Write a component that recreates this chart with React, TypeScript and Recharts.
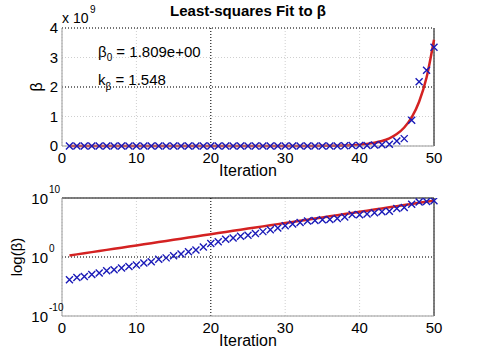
import React from "react";
import {
  LineChart,
  Line,
  XAxis,
  YAxis,
  CartesianGrid,
  ReferenceLine,
} from "recharts";

const iterations = [
  1, 2, 3, 4, 5, 6, 7, 8, 9, 10, 11, 12, 13, 14, 15, 16, 17, 18, 19, 20,
  21, 22, 23, 24, 25, 26, 27, 28, 29, 30, 31, 32, 33, 34, 35, 36, 37, 38, 39, 40,
  41, 42, 43, 44, 45, 46, 47, 48, 49, 50,
];

// measured beta per iteration
const betaValues = [
  1.4e-4, 3.2e-4, 5.0e-4, 1.1e-3, 2.0e-3, 4.5e-3, 7.1e-3, 1.4e-2, 2.5e-2, 4.5e-2,
  0.1, 0.16, 0.4, 0.71, 1.6, 3.2, 7.9, 16, 50, 200,
  400, 1.0e3, 1.6e3, 3.2e3, 5.0e3, 1.0e4, 2.0e4, 4.0e4, 7.9e4, 2.0e5,
  4.0e5, 7.1e5, 1.3e6, 1.6e6, 2.0e6, 2.2e6, 3.2e6, 6.3e6, 1.6e7, 1.4e7,
  2.0e7, 3.2e7, 4.5e7, 5.6e7, 1.7e8, 2.5e8, 8.7e8, 2.18e9, 2.57e9, 3.35e9,
];

// least-squares fit curve
const fitValues = [
  1.81, 2.8, 4.34, 6.71, 10.4, 16.1, 24.9, 38.5, 59.6, 92.3,
  143, 221, 342, 530, 821, 1270, 1966, 3044, 4712, 7295,
  1.13e4, 1.75e4, 2.71e4, 4.19e4, 6.49e4, 1.0e5, 1.55e5, 2.41e5, 3.72e5, 5.76e5,
  8.92e5, 1.38e6, 2.14e6, 3.31e6, 5.12e6, 7.93e6, 1.23e7, 1.9e7, 2.94e7, 4.55e7,
  7.05e7, 1.09e8, 1.69e8, 2.62e8, 4.05e8, 6.27e8, 9.7e8, 1.5e9, 2.32e9, 3.6e9,
];

const xTicks = [0, 10, 20, 30, 40, 50];
const linTicks = [0, 1e9, 2e9, 3e9, 4e9];
const logTicks = [1e-10, 1, 1e10];
const logTickExponents = ["-10", "0", "10"];

const rows = iterations.map((it, i) => ({
  iter: it,
  beta: betaValues[i],
  fit: fitValues[i],
}));

const BLUE = "#1a1ab8";
const RED = "#d42222";
const AXIS = "#9a9a9a";

const Cross = (props: any) => {
  const { cx, cy } = props;
  if (cx == null || cy == null) return null;
  const r = 3.5;
  return (
    <path
      d={`M${cx - r},${cy - r}L${cx + r},${cy + r}M${cx - r},${cy + r}L${cx + r},${cy - r}`}
      stroke={BLUE}
      strokeWidth={1.4}
      fill="none"
    />
  );
};

const LogTick = (props: any) => {
  const { y, payload } = props;
  const idx = logTicks.indexOf(payload.value);
  return (
    <g>
      <text x={48} y={y} textAnchor="end" dominantBaseline="central" fontSize={15} fill="#000">
        10
      </text>
      <text x={49} y={y - 5} textAnchor="start" fontSize={10} fill="#000">
        {logTickExponents[idx]}
      </text>
    </g>
  );
};

export default function App() {
  return (
    <div
      style={{
        position: "absolute",
        left: 0,
        top: 0,
        width: 480,
        height: 361,
        background: "#fff",
        fontFamily: "'Liberation Sans', Arial, sans-serif",
      }}
    >
      <div style={{ position: "absolute", left: 0, top: 0 }}>
        <LineChart width={480} height={180} data={rows} margin={{ top: 28, right: 46, left: 0, bottom: 14 }}>
          <CartesianGrid stroke="#cfcfcf" strokeDasharray="1 2" />
          <XAxis
            dataKey="iter"
            type="number"
            domain={[0, 50]}
            ticks={xTicks}
            height={20}
            tickLine={false}
            tickSize={0}
            tickMargin={6}
            axisLine={{ stroke: AXIS }}
            tick={{ fill: "#000", fontSize: 15 }}
            label={{ value: "Iteration", position: "bottom", offset: -1, fill: "#000", fontSize: 16 }}
          />
          <YAxis
            type="number"
            domain={[0, 4e9]}
            ticks={linTicks}
            width={62}
            tickLine={false}
            tickSize={0}
            tickMargin={4}
            axisLine={{ stroke: AXIS }}
            tick={{ fill: "#000", fontSize: 15 }}
            tickFormatter={(v: number) => String(v / 1e9)}
            label={{ value: "β", angle: -90, position: "insideLeft", offset: 36, fill: "#000", fontSize: 16, style: { textAnchor: "middle" } }}
          />
          <ReferenceLine x={20} stroke="#000" strokeDasharray="1 2" />
          <ReferenceLine y={2e9} stroke="#000" strokeDasharray="1 2" />
          <ReferenceLine y={4e9} stroke="#000" strokeDasharray="1 2" />
          <ReferenceLine x={50} stroke="#000" />
          <Line
            dataKey="fit"
            type="monotone"
            stroke={RED}
            strokeWidth={2.5}
            dot={false}
            activeDot={false}
            isAnimationActive={false}
          />
          <Line
            dataKey="beta"
            stroke="none"
            dot={<Cross />}
            activeDot={false}
            isAnimationActive={false}
          />
        </LineChart>
      </div>
      <div style={{ position: "absolute", left: 0, top: 180 }}>
        <LineChart width={480} height={181} data={rows} margin={{ top: 18, right: 46, left: 0, bottom: 25 }}>
          <CartesianGrid stroke="#cfcfcf" strokeDasharray="1 2" />
          <XAxis
            dataKey="iter"
            type="number"
            domain={[0, 50]}
            ticks={xTicks}
            height={20}
            tickLine={false}
            tickSize={0}
            tickMargin={6}
            axisLine={{ stroke: AXIS }}
            tick={{ fill: "#000", fontSize: 15 }}
            label={{ value: "Iteration", position: "bottom", offset: -1, fill: "#000", fontSize: 16 }}
          />
          <YAxis
            scale="log"
            type="number"
            domain={[1e-10, 1e10]}
            allowDataOverflow
            ticks={logTicks}
            width={62}
            tickLine={false}
            axisLine={{ stroke: AXIS }}
            tick={<LogTick />}
            label={{ value: "log(β)", angle: -90, position: "insideLeft", offset: 17, fill: "#000", fontSize: 15, style: { textAnchor: "middle" } }}
          />
          <ReferenceLine x={20} stroke="#000" strokeDasharray="1 2" />
          <ReferenceLine y={1} stroke="#000" strokeDasharray="1 2" />
          <ReferenceLine y={1e10} stroke="#000" />
          <ReferenceLine x={50} stroke="#000" />
          <Line
            dataKey="fit"
            stroke={RED}
            strokeWidth={2.5}
            dot={false}
            activeDot={false}
            isAnimationActive={false}
          />
          <Line
            dataKey="beta"
            stroke="none"
            dot={<Cross />}
            activeDot={false}
            isAnimationActive={false}
          />
        </LineChart>
      </div>
      <svg
        width={480}
        height={361}
        style={{ position: "absolute", left: 0, top: 0, pointerEvents: "none" }}
      >
        <text x={248} y={16} textAnchor="middle" fontSize={15} fontWeight="bold" fill="#000">
          Least-squares Fit to β
        </text>
        <text x={62} y={23} fontSize={14} fill="#000">
          x 10
        </text>
        <text x={90} y={13} fontSize={10} fill="#000">
          9
        </text>
        <text x={98} y={57} fontSize={15} fill="#000">
          β<tspan dy={4} fontSize={10}>0</tspan>
          <tspan dy={-4}> = 1.809e+00</tspan>
        </text>
        <text x={98} y={85} fontSize={15} fill="#000">
          k<tspan dy={5} fontSize={10}>β</tspan>
          <tspan dy={-5}> = 1.548</tspan>
        </text>
      </svg>
    </div>
  );
}
